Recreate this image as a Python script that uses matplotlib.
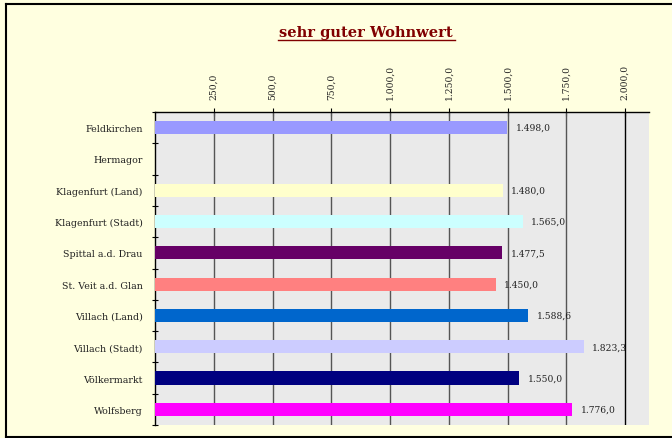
import matplotlib
matplotlib.use("Agg")
import matplotlib.pyplot as plt
from matplotlib.ticker import FuncFormatter
import numpy as np

# data
districts = ['Feldkirchen', 'Hermagor', 'Klagenfurt (Land)', 'Klagenfurt (Stadt)',
             'Spittal a.d. Drau', 'St. Veit a.d. Glan', 'Villach (Land)',
             'Villach (Stadt)', 'Völkermarkt', 'Wolfsberg']
values = [1498.0, None, 1480.0, 1565.0, 1477.5, 1450.0, 1588.6, 1823.3, 1550.0, 1776.0]
bar_colors = ['#9999FF', '#FFFFFF', '#FFFFCC', '#CCFFFF', '#660066', '#FF8080',
              '#0066CC', '#CCCCFF', '#000080', '#FF00FF']
xticks = [250, 500, 750, 1000, 1250, 1500, 1750, 2000]


def de_fmt(v):
    # 1.498,0 style
    s = f"{v:,.1f}"
    return s.replace(',', 'X').replace('.', ',').replace('X', '.')


plt.rcParams['font.family'] = ['DejaVu Serif']
txt_col = '#222222'

fig = plt.figure(figsize=(6.72, 4.39), dpi=100)
fig.patch.set_facecolor('#FFFFE0')
ax = fig.add_axes([155/672, 1 - 426/439, (649 - 155)/672, (426 - 113)/439])
ax.set_facecolor('#EAEAEA')

y = np.arange(len(districts))
vals = [v if v is not None else 0 for v in values]
ax.barh(y, vals, height=0.42, color=bar_colors, zorder=3)

for yi, v in zip(y, values):
    if v is None:
        continue
    ax.annotate(de_fmt(v), (v, yi), xytext=(6, 0), textcoords='offset points',
                va='center', ha='left', fontsize=6.6, color=txt_col, zorder=4)

ax.set_xlim(0, 2102)
ax.set_ylim(len(districts) - 0.5, -0.5)

# gridlines
for t in xticks:
    ax.axvline(t, color='black' if t == 2000 else '#555555', lw=1.0, zorder=2)

ax.xaxis.tick_top()
ax.set_xticks(xticks)
ax.xaxis.set_major_formatter(FuncFormatter(lambda v, p: de_fmt(v)))
ax.tick_params(axis='x', direction='inout', length=6, width=0.8, pad=6,
               labelsize=6.6, labelrotation=90, labelcolor=txt_col)

ax.set_yticks(y)
ax.set_yticklabels(districts, fontsize=6.8, color=txt_col)
ax.set_yticks(np.arange(-0.5, len(districts) + 0.5, 1), minor=True)
ax.tick_params(axis='y', which='major', length=0, pad=9)
ax.tick_params(axis='y', which='minor', direction='inout', length=5, width=0.8)

for side in ['right', 'bottom']:
    ax.spines[side].set_visible(False)
ax.spines['top'].set_linewidth(1.0)
ax.spines['left'].set_linewidth(1.0)

fig.text(0.545, 1 - 33/439, 'sehr guter Wohnwert', ha='center', va='center',
         fontsize=10.5, fontweight='bold', color='#800000')
# underline for the title
fig.add_artist(plt.Line2D([278/672, 455/672], [1 - 41/439, 1 - 41/439],
                          color='#800000', lw=1.0))

# outer frame: left, top, bottom only (right side runs off the image)
x0, y0, y1 = 6/672, 1.5/439, 1 - 5/439
for xs, ys in [([x0, x0], [y0, y1]), ([x0, 0.998], [y1, y1]), ([x0, 0.998], [y0, y0])]:
    fig.add_artist(plt.Line2D(xs, ys, color='black', lw=1.5))

fig.savefig('out.png', dpi=100, facecolor=fig.get_facecolor())
